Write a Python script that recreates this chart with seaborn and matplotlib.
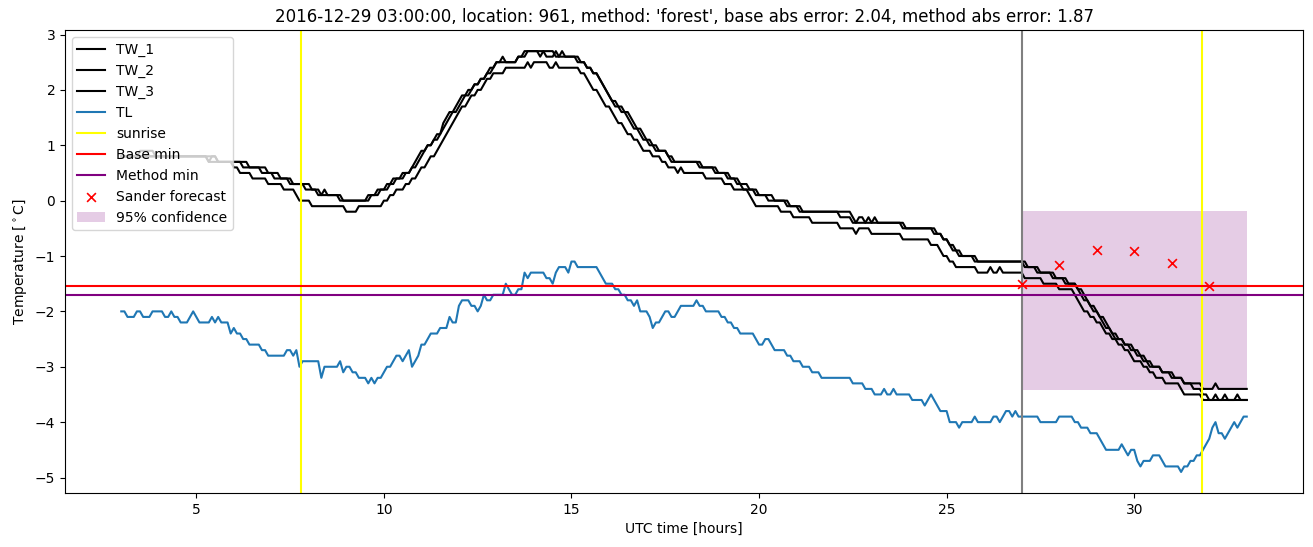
import numpy as np
import pandas as pd
import matplotlib
matplotlib.use("Agg")
import matplotlib.pyplot as plt
import seaborn as sns

# ---------------- data (5-minute samples from 03:00 to 33:00, in tenths of a degree) -------------
START_HOUR = 3
STEP_MIN = 5

TL_TENTHS = [
    -20, -20, -21, -21, -21, -20, -20, -21, -21, -21, -20, -20,  # 3
    -20, -20, -21, -21, -20, -21, -21, -22, -22, -22, -21, -20,  # 4
    -21, -22, -22, -22, -22, -21, -22, -21, -22, -22, -22, -24,  # 5
    -23, -24, -24, -25, -25, -26, -26, -26, -26, -27, -27, -28,  # 6
    -28, -28, -28, -28, -28, -27, -27, -28, -27, -30, -29, -29,  # 7
    -29, -29, -29, -29, -32, -30, -30, -30, -30, -30, -29, -31,  # 8
    -30, -30, -31, -31, -32, -32, -32, -33, -32, -33, -32, -32,  # 9
    -31, -30, -30, -29, -28, -28, -29, -28, -27, -30, -29, -28,  # 10
    -26, -26, -25, -24, -24, -24, -23, -23, -23, -21, -22, -22,  # 11
    -19, -18, -18, -18, -19, -19, -20, -19, -17, -18, -18, -17,  # 12
    -17, -17, -17, -15, -16, -17, -17, -16, -16, -13, -14, -13,  # 13
    -13, -13, -13, -13, -14, -14, -15, -13, -12, -12, -12, -13,  # 14
    -11, -11, -12, -12, -12, -12, -12, -12, -12, -13, -14, -15,  # 15
    -15, -15, -16, -16, -17, -17, -18, -18, -19, -18, -20, -20,  # 16
    -20, -21, -23, -22, -22, -21, -20, -20, -21, -21, -20, -19,  # 17
    -19, -19, -19, -19, -18, -19, -19, -20, -20, -20, -20, -20,  # 18
    -21, -21, -22, -22, -23, -23, -24, -24, -24, -24, -24, -25,  # 19
    -26, -26, -25, -25, -26, -27, -27, -27, -27, -28, -28, -29,  # 20
    -29, -29, -30, -30, -30, -31, -31, -31, -32, -32, -32, -32,  # 21
    -32, -32, -32, -32, -32, -32, -33, -33, -33, -33, -34, -34,  # 22
    -34, -35, -35, -35, -34, -35, -35, -34, -35, -35, -35, -35,  # 23
    -35, -36, -36, -36, -36, -37, -36, -35, -36, -37, -38, -38,  # 24
    -38, -40, -40, -40, -41, -40, -40, -40, -40, -39, -40, -40,  # 25
    -40, -40, -40, -39, -39, -40, -39, -38, -38, -39, -38, -39,  # 26
    -39, -39, -39, -39, -39, -39, -40, -40, -40, -40, -40, -40,  # 27
    -39, -39, -39, -39, -39, -40, -40, -41, -41, -41, -42, -42,  # 28
    -42, -43, -44, -45, -45, -45, -45, -45, -44, -45, -46, -45,  # 29
    -45, -47, -48, -47, -47, -47, -46, -46, -46, -47, -48, -48,  # 30
    -48, -48, -48, -49, -48, -48, -47, -47, -46, -46, -45, -44,  # 31
    -43, -41, -40, -42, -42, -43, -42, -41, -40, -41, -40, -39,  # 32
    -39,
]

TW1_TENTHS = [
    8, 8, 8, 8, 8, 8, 9, 9, 9, 9, 9, 8,  # 3
    8, 8, 8, 8, 8, 8, 8, 8, 8, 8, 8, 8,  # 4
    8, 8, 8, 8, 8, 8, 8, 7, 7, 7, 7, 7,  # 5
    7, 7, 7, 6, 6, 6, 6, 6, 6, 5, 5, 5,  # 6
    5, 4, 4, 4, 4, 4, 3, 3, 3, 3, 3, 2,  # 7
    2, 2, 2, 1, 1, 1, 1, 1, 1, 1, 0, 0,  # 8
    0, 0, 0, 0, 0, 0, 0, 1, 1, 1, 2, 2,  # 9
    2, 3, 3, 4, 4, 4, 5, 5, 5, 6, 7, 8,  # 10
    9, 9, 10, 10, 11, 12, 12, 14, 15, 16, 16, 17,  # 11
    18, 19, 19, 20, 20, 21, 21, 22, 22, 23, 24, 24,  # 12
    25, 25, 26, 25, 25, 25, 25, 26, 26, 27, 27, 27,  # 13
    27, 27, 27, 27, 26, 26, 26, 27, 26, 26, 26, 26,  # 14
    26, 26, 25, 25, 25, 24, 24, 23, 23, 22, 21, 20,  # 15
    19, 18, 17, 17, 16, 16, 15, 14, 13, 13, 12, 11,  # 16
    11, 10, 10, 9, 9, 9, 9, 8, 7, 7, 7, 7,  # 17
    7, 7, 7, 7, 7, 6, 6, 6, 6, 6, 5, 5,  # 18
    5, 5, 4, 4, 4, 3, 3, 2, 2, 2, 2, 1,  # 19
    1, 1, 1, 0, 0, 0, 0, 0, 0, -1, -1, -1,  # 20
    -1, -2, -2, -2, -2, -2, -2, -2, -2, -2, -2, -2,  # 21
    -2, -2, -3, -3, -3, -3, -4, -4, -4, -4, -4, -4,  # 22
    -4, -4, -4, -4, -4, -4, -4, -4, -4, -4, -5, -5,  # 23
    -5, -5, -5, -5, -5, -5, -5, -5, -6, -6, -6, -7,  # 24
    -7, -8, -9, -9, -10, -10, -10, -10, -10, -11, -11, -11,  # 25
    -11, -11, -11, -11, -11, -11, -11, -11, -11, -11, -11, -11,  # 26
    -11, -12, -12, -12, -12, -13, -13, -13, -13, -13, -14, -14,  # 27
    -14, -14, -15, -15, -15, -15, -16, -17, -18, -18, -19, -20,  # 28
    -20, -21, -22, -23, -23, -24, -25, -25, -25, -26, -26, -27,  # 29
    -27, -28, -28, -29, -29, -30, -30, -30, -30, -31, -31, -31,  # 30
    -32, -32, -32, -32, -33, -33, -33, -33, -33, -33, -34, -34,  # 31
    -34, -34, -33, -34, -34, -34, -34, -34, -34, -34, -34, -34,  # 32
    -34,
]

TW2_TENTHS = [
    8, 8, 8, 8, 8, 8, 8, 8, 8, 8, 8, 8,  # 3
    8, 8, 8, 8, 8, 8, 8, 8, 8, 8, 8, 8,  # 4
    8, 8, 8, 8, 7, 8, 8, 7, 7, 7, 7, 7,  # 5
    7, 7, 7, 7, 7, 6, 6, 6, 6, 6, 6, 5,  # 6
    5, 5, 5, 4, 4, 4, 4, 3, 3, 3, 3, 3,  # 7
    3, 2, 2, 2, 1, 2, 1, 1, 1, 1, 1, 0,  # 8
    0, 0, 0, 0, 0, 0, 0, 0, 1, 1, 1, 2,  # 9
    2, 2, 3, 3, 4, 4, 4, 5, 5, 6, 6, 7,  # 10
    8, 9, 10, 10, 11, 11, 12, 13, 14, 15, 16, 16,  # 11
    17, 18, 19, 19, 20, 21, 21, 22, 22, 23, 23, 24,  # 12
    25, 25, 25, 25, 25, 25, 25, 26, 26, 26, 27, 27,  # 13
    27, 27, 26, 27, 27, 27, 27, 26, 26, 27, 26, 26,  # 14
    26, 26, 26, 25, 25, 24, 24, 23, 23, 22, 21, 20,  # 15
    19, 18, 18, 17, 17, 16, 16, 15, 14, 13, 13, 12,  # 16
    11, 11, 10, 10, 9, 9, 9, 8, 8, 7, 7, 7,  # 17
    7, 7, 7, 7, 7, 7, 6, 6, 6, 6, 6, 5,  # 18
    5, 5, 5, 4, 4, 4, 3, 3, 3, 2, 2, 2,  # 19
    1, 1, 1, 1, 1, 0, 0, 0, 0, 0, -1, -1,  # 20
    -1, -1, -2, -2, -2, -2, -2, -2, -2, -2, -2, -2,  # 21
    -2, -2, -2, -2, -2, -2, -3, -4, -3, -3, -4, -3,  # 22
    -4, -3, -4, -4, -4, -4, -4, -4, -4, -4, -4, -5,  # 23
    -5, -5, -5, -5, -5, -5, -5, -5, -5, -6, -6, -7,  # 24
    -7, -8, -8, -9, -9, -10, -10, -10, -10, -10, -11, -11,  # 25
    -11, -11, -11, -11, -11, -11, -11, -11, -11, -11, -11, -11,  # 26
    -11, -11, -12, -12, -12, -12, -13, -13, -13, -13, -13, -14,  # 27
    -14, -14, -14, -15, -15, -15, -16, -16, -17, -18, -19, -19,  # 28
    -20, -21, -21, -22, -23, -24, -24, -25, -25, -26, -26, -26,  # 29
    -27, -27, -28, -28, -29, -29, -30, -30, -30, -31, -31, -31,  # 30
    -31, -32, -32, -32, -33, -33, -33, -34, -34, -34, -35, -35,  # 31
    -36, -36, -35, -36, -36, -35, -36, -36, -36, -35, -36, -36,  # 32
    -36,
]

TW3_TENTHS = [
    8, 8, 8, 8, 8, 8, 8, 8, 8, 8, 8, 8,  # 3
    8, 8, 8, 8, 8, 8, 8, 8, 8, 8, 8, 8,  # 4
    8, 8, 8, 8, 7, 7, 7, 7, 7, 7, 7, 7,  # 5
    6, 6, 5, 5, 5, 5, 4, 4, 4, 4, 4, 3,  # 6
    3, 3, 3, 3, 2, 2, 2, 2, 1, 0, 0, 0,  # 7
    0, -1, -1, -1, -1, -1, -1, -1, -1, -1, -1, -1,  # 8
    -2, -2, -2, -2, -1, -1, -1, -1, -1, -1, -1, -1,  # 9
    0, 0, 1, 1, 2, 2, 2, 3, 3, 4, 4, 5,  # 10
    6, 6, 7, 8, 8, 9, 10, 11, 12, 13, 14, 15,  # 11
    16, 17, 17, 18, 19, 19, 20, 20, 21, 22, 22, 23,  # 12
    23, 23, 23, 24, 24, 24, 24, 24, 24, 24, 25, 24,  # 13
    25, 25, 25, 25, 25, 24, 24, 25, 24, 24, 24, 24,  # 14
    24, 24, 24, 23, 23, 22, 21, 20, 20, 19, 18, 17,  # 15
    17, 16, 15, 14, 14, 13, 12, 12, 11, 11, 10, 9,  # 16
    9, 9, 8, 8, 8, 7, 7, 6, 6, 6, 5, 6,  # 17
    5, 5, 5, 5, 5, 5, 5, 4, 4, 4, 4, 4,  # 18
    4, 3, 3, 3, 2, 2, 2, 2, 2, 1, 0, -1,  # 19
    -1, -1, -1, -1, -1, -1, -1, -2, -2, -2, -2, -3,  # 20
    -3, -3, -3, -3, -3, -4, -4, -4, -4, -4, -4, -4,  # 21
    -4, -4, -5, -5, -5, -5, -5, -6, -5, -5, -5, -5,  # 22
    -6, -6, -6, -6, -6, -6, -6, -6, -6, -6, -7, -7,  # 23
    -7, -7, -7, -7, -7, -7, -7, -8, -8, -8, -9, -10,  # 24
    -10, -11, -11, -12, -12, -12, -12, -12, -12, -12, -13, -13,  # 25
    -13, -13, -12, -13, -13, -12, -13, -13, -13, -13, -13, -13,  # 26
    -13, -14, -14, -14, -14, -14, -14, -15, -15, -15, -15, -15,  # 27
    -16, -16, -16, -16, -16, -17, -18, -19, -20, -20, -21, -21,  # 28
    -22, -22, -23, -24, -24, -25, -25, -26, -26, -27, -27, -28,  # 29
    -29, -29, -29, -30, -30, -31, -31, -32, -32, -32, -33, -33,  # 30
    -33, -33, -33, -34, -35, -35, -35, -35, -35, -35, -36, -36,  # 31
    -36, -36, -36, -36, -36, -36, -36, -36, -36, -36, -36, -36,  # 32
    -36,
]

SUNRISE_HOURS = [7.8, 31.8]
FORECAST_START = 27.0
BASE_MIN = -1.54
METHOD_MIN = -1.70
SANDER_HOURS = [27, 28, 29, 30, 31, 32]
SANDER_VALUES = [-1.50, -1.16, -0.90, -0.91, -1.13, -1.54]
CONF_HOURS = [27, 33]
CONF_LOW = -3.42
CONF_HIGH = -0.18

TITLE = ("2016-12-29 03:00:00, location: 961, method: 'forest', "
         "base abs error: 2.04, method abs error: 1.87")

# ---------------- build frame ----------------
n = len(TL_TENTHS)
hours = START_HOUR + np.arange(n) * STEP_MIN / 60.0
df = pd.DataFrame({
    "hour": hours,
    "TW_1": np.array(TW1_TENTHS[:n]) / 10.0,
    "TW_2": np.array(TW2_TENTHS[:n]) / 10.0,
    "TW_3": np.array(TW3_TENTHS[:n]) / 10.0,
    "TL": np.array(TL_TENTHS) / 10.0,
})

plt.rcParams["font.family"] = ["DejaVu Sans"]
fig, ax = plt.subplots(figsize=(13.13, 5.47), dpi=100)
fig.subplots_adjust(left=0.0495, right=0.9924, top=0.945, bottom=0.0987)

for name in ["TW_1", "TW_2", "TW_3"]:
    sns.lineplot(data=df, x="hour", y=name, color="black", label=name,
                 ax=ax, linewidth=1.5)
sns.lineplot(data=df, x="hour", y="TL", color="#1f77b4", label="TL",
             ax=ax, linewidth=1.5)

ax.axvline(SUNRISE_HOURS[0], color="yellow", label="sunrise", linewidth=1.5)
ax.axvline(SUNRISE_HOURS[1], color="yellow", linewidth=1.5)
ax.axvline(FORECAST_START, color="gray", linewidth=1.5)
ax.axhline(BASE_MIN, color="red", label="Base min", linewidth=1.5)
ax.axhline(METHOD_MIN, color="purple", label="Method min", linewidth=1.5)

sns.scatterplot(x=SANDER_HOURS, y=SANDER_VALUES, marker="x", color="red",
                s=40, linewidth=1.2, label="Sander forecast", ax=ax, zorder=5)
ax.fill_between(CONF_HOURS, CONF_LOW, CONF_HIGH, color="purple", alpha=0.2,
                linewidth=0, label="95% confidence")

ax.set_title(TITLE)
ax.set_xlabel("UTC time [hours]")
ax.set_ylabel("Temperature [$^\\circ$C]")

order = ["TW_1", "TW_2", "TW_3", "TL", "sunrise", "Base min", "Method min",
         "Sander forecast", "95% confidence"]
handles, labels = ax.get_legend_handles_labels()
hmap = dict(zip(labels, handles))
ax.legend([hmap[k] for k in order], order, loc="upper left")

fig.savefig("out.png", dpi=100)
